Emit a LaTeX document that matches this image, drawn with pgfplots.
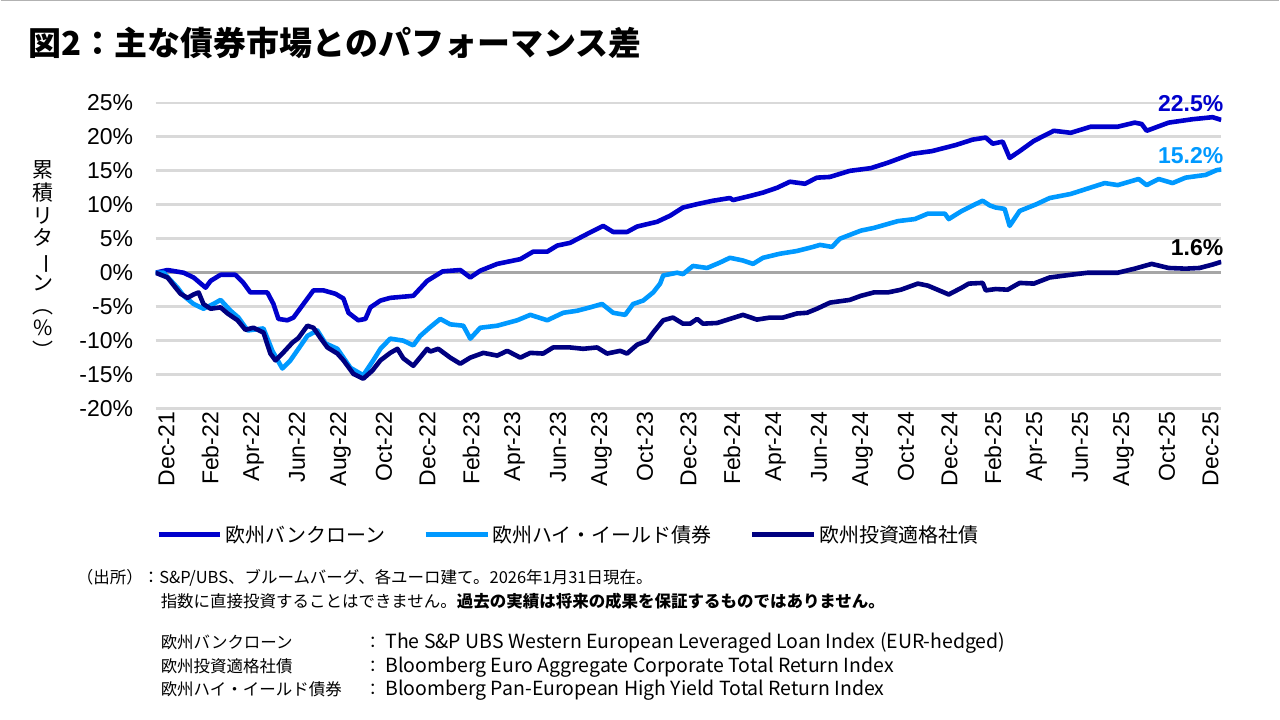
\documentclass[border=0pt]{standalone}
\usepackage{fontspec}
\usepackage{pgfplots}
\pgfplotsset{compat=1.18}
\setmainfont{Liberation Sans}
\newfontfamily\jp{Noto Sans CJK JP}
\definecolor{loan}{HTML}{0000CC}
\definecolor{hy}{HTML}{0099FF}
\definecolor{ig}{HTML}{000080}
\definecolor{gridc}{HTML}{D9D9D9}
\definecolor{zeroc}{HTML}{A6A6A6}

% cumulative return (%), x = months since end of Dec-21
\pgfplotstableread{
m v
0 0
0.55 0.4
1.29 0.0
1.75 -0.7
2.30 -2.2
2.53 -1.2
2.99 -0.3
3.67 -0.3
4.04 -1.5
4.36 -2.9
5.14 -2.9
5.42 -4.6
5.65 -6.8
6.06 -7.0
6.34 -6.6
6.80 -4.6
7.26 -2.6
7.72 -2.6
8.27 -3.1
8.64 -3.8
8.87 -5.9
9.32 -7.0
9.65 -6.8
9.88 -5.1
10.34 -4.1
10.79 -3.7
11.85 -3.4
12.49 -1.2
13.20 0.2
14.01 0.4
14.47 -0.7
14.93 0.3
15.71 1.3
16.77 2.0
17.36 3.1
18.01 3.1
18.47 4.0
19.06 4.4
19.84 5.7
20.58 6.9
21.04 6.0
21.68 6.0
22.14 6.8
23.06 7.5
23.66 8.4
24.25 9.6
24.90 10.1
25.63 10.6
26.41 11.0
26.55 10.7
27.33 11.3
27.93 11.8
28.57 12.5
29.17 13.4
29.86 13.1
30.41 14.0
31.00 14.1
31.92 15.0
32.89 15.4
33.67 16.2
34.77 17.5
35.69 17.9
36.79 18.8
37.57 19.6
38.17 19.9
38.49 19.0
38.95 19.3
39.27 16.9
39.73 17.9
40.38 19.4
41.30 20.9
42.08 20.6
43.00 21.5
44.24 21.5
45.02 22.1
45.34 21.9
45.57 20.9
46.58 22.1
47.68 22.6
48.60 22.9
49.00 22.5
}\loan

\pgfplotstableread{
m v
0 0
0.37 0.0
1.01 -2.2
1.29 -3.4
1.75 -4.6
2.20 -5.3
2.66 -4.6
2.99 -4.0
3.45 -5.6
3.81 -6.6
4.23 -8.5
4.96 -8.2
5.37 -11.5
5.83 -14.1
6.20 -12.9
6.57 -11.2
6.98 -9.3
7.44 -8.5
7.81 -10.4
8.36 -11.2
8.96 -14.0
9.55 -15.1
10.01 -12.9
10.34 -11.2
10.79 -9.7
11.39 -10.0
11.85 -10.7
12.17 -9.3
12.63 -8.0
13.09 -6.8
13.55 -7.6
14.15 -7.8
14.47 -9.7
14.93 -8.1
15.71 -7.8
16.63 -7.0
17.23 -6.2
18.01 -7.0
18.74 -5.9
19.38 -5.6
19.98 -5.1
20.53 -4.6
21.04 -5.9
21.59 -6.2
21.96 -4.6
22.42 -4.1
22.88 -2.9
23.20 -1.6
23.34 -0.4
23.98 0.0
24.25 -0.2
24.71 1.0
25.36 0.7
25.95 1.5
26.41 2.2
27.01 1.8
27.47 1.3
27.93 2.2
28.71 2.8
29.49 3.2
30.23 3.8
30.55 4.1
31.10 3.8
31.46 5.0
32.43 6.2
33.03 6.6
34.13 7.6
34.91 7.9
35.51 8.7
36.29 8.7
36.47 7.9
37.07 9.1
37.57 9.9
38.03 10.6
38.36 9.9
38.63 9.6
39.04 9.4
39.27 6.9
39.73 9.1
40.51 10.1
41.11 11.0
42.08 11.6
42.86 12.4
43.64 13.2
44.24 12.9
45.20 13.8
45.57 12.9
46.12 13.8
46.76 13.2
47.36 14.0
48.28 14.4
48.78 15.1
49.00 15.2
}\hy

\pgfplotstableread{
m v
0 0
0.55 -0.7
0.92 -2.2
1.15 -3.1
1.47 -3.7
1.75 -3.2
1.98 -2.9
2.20 -4.6
2.53 -5.3
2.99 -5.1
3.31 -6.0
3.77 -7.0
4.13 -8.4
4.50 -8.1
4.96 -8.8
5.28 -11.9
5.51 -12.9
5.83 -11.9
6.29 -10.3
6.57 -9.6
6.98 -7.8
7.26 -8.1
7.58 -9.6
7.90 -11.0
8.36 -11.9
8.64 -12.9
9.10 -14.9
9.55 -15.6
9.97 -14.4
10.34 -12.9
10.79 -11.8
11.12 -11.2
11.39 -12.6
11.85 -13.7
12.49 -11.2
12.63 -11.6
13.00 -11.2
13.55 -12.5
14.01 -13.4
14.47 -12.5
15.07 -11.8
15.71 -12.2
16.17 -11.5
16.77 -12.5
17.23 -11.8
17.82 -11.9
18.28 -11.0
19.06 -11.0
19.66 -11.2
20.30 -11.0
20.76 -11.9
21.36 -11.5
21.68 -11.9
22.14 -10.6
22.60 -10.0
22.88 -8.8
23.34 -7.0
23.79 -6.6
24.25 -7.5
24.58 -7.5
24.90 -6.8
25.17 -7.5
25.82 -7.4
26.41 -6.8
27.01 -6.2
27.65 -6.9
28.25 -6.6
28.85 -6.6
29.49 -6.0
29.95 -5.9
30.41 -5.3
31.01 -4.4
31.92 -4.0
32.43 -3.4
33.03 -2.9
33.67 -2.9
34.27 -2.5
35.05 -1.6
35.51 -1.9
36.47 -3.2
37.07 -2.2
37.39 -1.6
38.03 -1.5
38.17 -2.6
38.63 -2.4
39.18 -2.5
39.73 -1.5
40.38 -1.6
41.11 -0.7
42.08 -0.3
42.86 0.0
44.24 0.0
45.02 0.6
45.80 1.3
46.58 0.7
47.36 0.6
48.00 0.7
48.60 1.2
49.00 1.6
}\ig

\begin{document}
\begin{tikzpicture}[x=1pt,y=1pt]
\begin{axis}[
  name=ax,
  scale only axis, width=1067pt, height=306pt,
  xmin=0, xmax=49, ymin=-20, ymax=25,
  clip mode=individual,
  axis line style={draw=none},
  tick style={draw=none},
  major tick length=0pt,
  ymajorgrids=true,
  major grid style={gridc, line width=2.8pt},
  ytick={-20,-15,...,25},
  yticklabel={\pgfmathprintnumber{\tick}\%},
  yticklabel style={font=\fontsize{23}{23}\selectfont, xshift=-19pt},
  /pgf/number format/assume math mode=true,
  extra y ticks={0},
  extra y tick labels={},
  extra y tick style={ymajorgrids=true, major grid style={zeroc, line width=3.2pt}},
  xtick={0,2,...,48},
  xticklabels={Dec-21,Feb-22,Apr-22,Jun-22,Aug-22,Oct-22,Dec-22,Feb-23,Apr-23,Jun-23,Aug-23,Oct-23,Dec-23,Feb-24,Apr-24,Jun-24,Aug-24,Oct-24,Dec-24,Feb-25,Apr-25,Jun-25,Aug-25,Oct-25,Dec-25},
  xticklabel style={rotate=90, anchor=east, font=\fontsize{23}{23}\selectfont, yshift=-11pt},
  legend style={at={(0,-0.412)}, anchor=west, draw=none, fill=none, inner xsep=0pt,
    legend columns=3, font=\jp\fontsize{20}{20}\selectfont,
    /tikz/every even column/.append style={column sep=36pt}},
  legend cell align=left,
  legend image code/.code={\draw[#1, line width=5.5pt] (0pt,0pt) -- (62pt,0pt);},
  every axis plot/.append style={line width=4.6pt, line join=round},
]
\addplot[loan] table[x=m, y=v] {\loan};
\addplot[hy] table[x=m, y=v] {\hy};
\addplot[ig] table[x=m, y=v] {\ig};
\legend{欧州バンクローン, 欧州ハイ・イールド債券, 欧州投資適格社債}

\node[anchor=south east, inner sep=1pt, yshift=7pt, text=loan, font=\bfseries\fontsize{23}{23}\selectfont] at (axis cs:49.15,22.5) {22.5\%};
\node[anchor=south east, inner sep=1pt, yshift=5pt, text=hy, font=\bfseries\fontsize{23}{23}\selectfont] at (axis cs:49.15,15.2) {15.2\%};
\node[anchor=south east, inner sep=1pt, yshift=5pt, text=black, font=\bfseries\fontsize{23}{23}\selectfont] at (axis cs:49.15,1.6) {1.6\%};
\end{axis}

% page frame, 1pt = 1px of the 1280x720 slide; axis box lower-left is at (155,311)
\path (ax.south west) ++(-155,-311) coordinate (O);
\begin{scope}[shift={(O)}]
\path (0,0) rectangle (1280,720);
\draw[gray!60, line width=1.5pt] (0,719.3) -- (1280,719.3);

% title
\node[anchor=west, inner sep=0pt, font=\jp\bfseries\fontsize{33}{33}\selectfont] at (28,677)
  {図2：主な債券市場とのパフォーマンス差};

% y axis title, set vertically
\node[align=center, inner sep=0pt, font=\jp\fontsize{21}{22.6}\selectfont] at (42,460)
  {累\\積\\リ\\タ\\\rotatebox[origin=c]{-90}{ー}\\ン\\︵\\\%\\︶};

% source and notes
\begin{scope}[every node/.style={anchor=base west, inner sep=0pt, font=\jp\fontsize{16.5}{16.5}\selectfont}]
\node at (76,136) {（出所）：S\&P/UBS、ブルームバーグ、各ユーロ建て。2026年1月31日現在。};
\node at (160,112) {指数に直接投資することはできません。{\bfseries 過去の実績は将来の成果を保証するものではありません。}};
\node at (160,71) {欧州バンクローン};
\node at (160,47) {欧州投資適格社債};
\node at (160,24) {欧州ハイ・イールド債券};
\node at (364,71) {：};
\node at (364,47) {：};
\node at (364,24) {：};
\node[font=\jp\fontsize{19.5}{19.5}\selectfont] at (385,71) {The S\&P UBS Western European Leveraged Loan Index (EUR-hedged)};
\node[font=\jp\fontsize{19.5}{19.5}\selectfont] at (385,47) {Bloomberg Euro Aggregate Corporate Total Return Index};
\node[font=\jp\fontsize{19.5}{19.5}\selectfont] at (385,24) {Bloomberg Pan-European High Yield Total Return Index};
\end{scope}
\end{scope}
\end{tikzpicture}
\end{document}
